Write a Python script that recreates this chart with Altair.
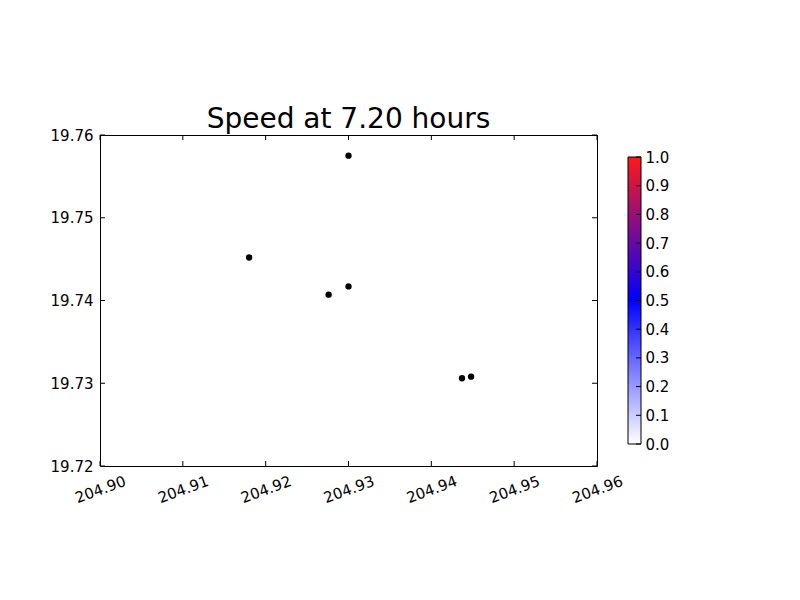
import altair as alt
import pandas as pd

# data
lon = [204.9300, 204.9180, 204.9276, 204.9300, 204.9437, 204.9448]
lat = [19.7575, 19.7452, 19.7407, 19.7417, 19.7306, 19.7308]
x_ticks = [204.90, 204.91, 204.92, 204.93, 204.94, 204.95, 204.96]
y_ticks = [19.72, 19.73, 19.74, 19.75, 19.76]
cbar_ticks = [0.0, 0.1, 0.2, 0.3, 0.4, 0.5, 0.6, 0.7, 0.8, 0.9, 1.0]
cbar_colors = ["#ff1a1a", "#0000ff", "#ffffff"]  # top -> bottom
title_text = "Speed at 7.20 hours"

FONT = "DejaVu Sans"
FS = 15
W, H = 497, 331
CBW, CBH = 13, 287
TL = 5

pts = pd.DataFrame({"lon": lon, "lat": lat})
xt = pd.DataFrame({"lon": x_ticks})
yt = pd.DataFrame({"lat": y_ticks})
ct = pd.DataFrame({"lo": cbar_ticks})

xs = alt.Scale(domain=[x_ticks[0], x_ticks[-1]], nice=False, zero=False)
ys = alt.Scale(domain=[y_ticks[0], y_ticks[-1]], nice=False, zero=False)

xaxis = alt.Axis(
    values=x_ticks, format=".2f", labelAngle=340, labelAlign="center",
    labelBaseline="middle", labelPadding=23, ticks=False, domain=False,
    grid=False, title=None, labelFontSize=FS, labelFont=FONT,
    labelColor="black", labelFlush=False, labelOverlap=False, labelBound=False)
yaxis = alt.Axis(
    values=y_ticks, format=".2f", ticks=False, domain=False, grid=False,
    title=None, labelPadding=7, labelFontSize=FS, labelFont=FONT,
    labelColor="black", labelFlush=False, labelOverlap=False)

points = alt.Chart(pts).mark_circle(size=40, color="black", opacity=1).encode(
    x=alt.X("lon:Q", scale=xs, axis=xaxis),
    y=alt.Y("lat:Q", scale=ys, axis=yaxis),
)

tick_bottom = alt.Chart(xt).mark_rule(color="black").encode(
    x=alt.X("lon:Q", scale=xs, axis=xaxis), y=alt.value(H), y2=alt.value(H - TL))
tick_top = alt.Chart(xt).mark_rule(color="black").encode(
    x=alt.X("lon:Q", scale=xs, axis=xaxis), y=alt.value(0), y2=alt.value(TL))
tick_left = alt.Chart(yt).mark_rule(color="black").encode(
    y=alt.Y("lat:Q", scale=ys, axis=yaxis), x=alt.value(0), x2=alt.value(TL))
tick_right = alt.Chart(yt).mark_rule(color="black").encode(
    y=alt.Y("lat:Q", scale=ys, axis=yaxis), x=alt.value(W), x2=alt.value(W - TL))

main = alt.layer(points, tick_bottom, tick_top, tick_left, tick_right).properties(
    width=W, height=H,
    title=alt.Title(title_text, fontSize=28, font=FONT, fontWeight="normal",
                    color="black", offset=-6),
    view=alt.ViewBackground(stroke="black", strokeWidth=1),
)

# colorbar
margin = (H - CBH) / 2 / CBH
cys = alt.Scale(domain=[-margin, 1 + margin], nice=False, zero=False)
cb = pd.DataFrame({"lo": [cbar_ticks[0]], "hi": [cbar_ticks[-1]]})
grad = alt.Gradient(
    gradient="linear", x1=0, x2=0, y1=0, y2=1,
    stops=[alt.GradientStop(color=cbar_colors[0], offset=0),
           alt.GradientStop(color=cbar_colors[1], offset=0.5),
           alt.GradientStop(color=cbar_colors[2], offset=1)])
caxis = alt.Axis(
    orient="right", values=cbar_ticks, format=".1f", domain=False, ticks=False,
    grid=False, title=None, labelPadding=4, labelFontSize=FS, labelFont=FONT,
    labelColor="black", labelFlush=False, labelOverlap=False)
bar = alt.Chart(cb).mark_rect(fill=grad, stroke="black", strokeWidth=1).encode(
    y=alt.Y("lo:Q", scale=cys, axis=caxis),
    y2="hi:Q", x=alt.value(0), x2=alt.value(CBW))
cticks = alt.Chart(ct).mark_rule(color="black").encode(
    y=alt.Y("lo:Q", scale=cys, axis=caxis), x=alt.value(CBW - TL), x2=alt.value(CBW))
cbar = alt.layer(bar, cticks).properties(
    width=CBW, height=H, view=alt.ViewBackground(strokeOpacity=0))

chart = alt.hconcat(main, cbar, spacing=31, bounds="flush").properties(
    padding={"left": 41, "top": 97, "right": 5, "bottom": 5},
    background="white",
)

chart.save("out.html", embed_options={"renderer": "svg", "actions": False})
